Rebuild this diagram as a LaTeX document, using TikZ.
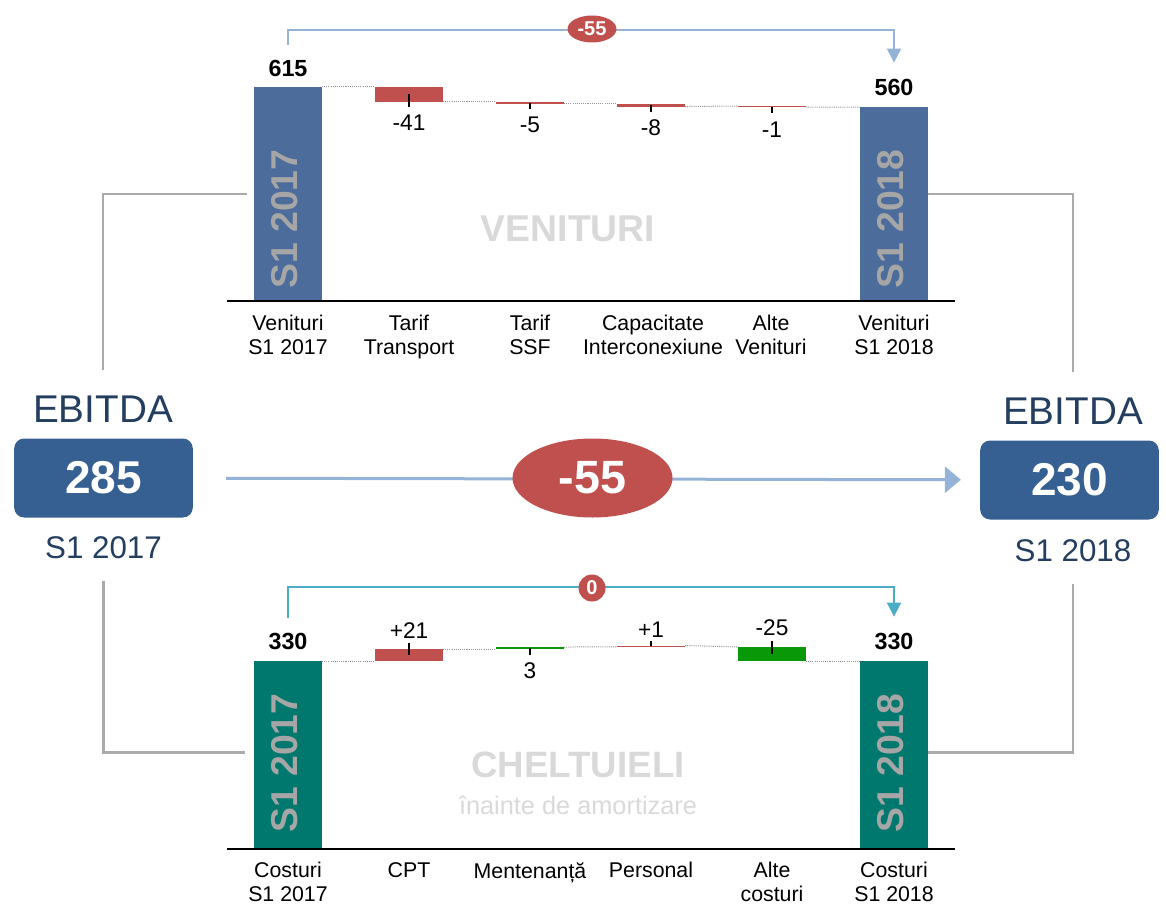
\documentclass[tikz,border=0pt]{standalone}
\usepackage{fontspec}
\setmainfont{Liberation Sans}
\usepackage{xcolor}
\usepackage{tikz}
\usetikzlibrary{shapes.geometric, arrows.meta, positioning}
\definecolor{barblue}{RGB}{76,108,156}
\definecolor{barteal}{RGB}{0,120,110}
\definecolor{negred}{RGB}{192,80,77}
\definecolor{posgreen}{RGB}{8,152,8}
\definecolor{boxblue}{RGB}{55,96,146}
\definecolor{navy}{RGB}{36,62,96}
\definecolor{framegray}{RGB}{170,170,170}
\definecolor{txtgray}{RGB}{166,166,166}
\definecolor{wmgray}{RGB}{217,217,217}
\definecolor{lightblue}{RGB}{149,179,215}
\definecolor{tealblue}{RGB}{75,172,198}
\tikzstyle{barnode} = [rectangle, draw=none, inner sep=0pt, outer sep=0pt, minimum width=51pt]
\tikzstyle{valtxt} = [inner sep=0pt, font=\fontsize{17pt}{20pt}\selectfont]
\tikzstyle{valbold} = [inner sep=0pt, font=\fontsize{17.5pt}{20pt}\selectfont\bfseries]
\tikzstyle{catlbl} = [inner sep=0pt, anchor=north, align=center, font=\fontsize{16pt}{18pt}\selectfont]
\tikzstyle{bartxt} = [inner sep=0pt, rotate=90, anchor=west, text=txtgray, font=\fontsize{28pt}{30pt}\selectfont\bfseries]
\tikzstyle{wmark} = [inner sep=0pt, text=wmgray]
\tikzstyle{dotln} = [gray!85, line width=0.75pt, dash pattern=on 0.8pt off 0.8pt]
\tikzstyle{tickln} = [black, line width=0.8pt]
\tikzstyle{axisln} = [black, line width=1pt]
\tikzstyle{framln} = [framegray, line width=2pt]
\tikzstyle{upbrk} = [lightblue, line width=1.5pt, -{Triangle[length=10.5pt,width=10.5pt]}]
\tikzstyle{lowbrk} = [tealblue, line width=1.5pt, -{Triangle[length=10.5pt,width=10.5pt]}]
\tikzstyle{midarrow} = [lightblue, line width=2.25pt, -{Triangle[length=12pt,width=19.5pt]}]
\tikzstyle{pill} = [ellipse, fill=negred, text=white, inner sep=0pt, font=\bfseries]
\tikzstyle{ebox} = [rectangle, rounded corners=7.5pt, fill=boxblue, text=white, minimum width=134pt, minimum height=59.25pt, inner sep=0pt, font=\fontsize{34.5pt}{36pt}\selectfont\bfseries]
\tikzstyle{ebtxt} = [inner sep=0pt, text=navy]

\begin{document}
\begin{tikzpicture}[x=0.75pt,y=-0.75pt]
    \useasboundingbox (0,0) rectangle (1166,916);

    % venituri
    \node[barnode, fill=barblue, anchor=south, minimum height=160.5pt] (v1) at (288,301) {};
    \node[barnode, fill=negred, anchor=north, minimum height=11.25pt] (tt) at (409,87) {};
    \node[barnode, fill=negred, anchor=north, minimum height=1.5pt] (ssf) at (530,102) {};
    \node[barnode, fill=negred, anchor=north, minimum height=1.9pt] (capb) at (651,104) {};
    \node[barnode, fill=negred, anchor=north, minimum height=0.9pt] (alte) at (772,106) {};
    \node[barnode, fill=barblue, anchor=south, minimum height=145.5pt] (v6) at (894,301) {};

    \draw[dotln] (v1.north east) -- (tt.north west);
    \draw[dotln] (tt.south east) -- (ssf.north west);
    \draw[dotln] (ssf.south east) -- (capb.north west);
    \draw[dotln] (capb.south east) -- (alte.north west);
    \draw[dotln] (alte.south east) -- (v6.north west);

    \draw[tickln] (tt.center) -- ([yshift=-4pt]tt.south);
    \draw[tickln] (ssf.center) -- ([yshift=-4pt]ssf.south);
    \draw[tickln] (capb.center) -- ([yshift=-4pt]capb.south);
    \draw[tickln] (alte.center) -- ([yshift=-4pt]alte.south);

    \node[valbold, above=7.2pt of v1] (v1val) {615};
    \node[valbold, above=8pt of v6] (v6val) {560};
    \node[valtxt, below=9.7pt of tt] (ttval) {-41};
    \node[valtxt, below=9.7pt of ssf] (ssfval) {-5};
    \node[valtxt, below=10pt of capb] (capval) {-8};
    \node[valtxt, below=11pt of alte] (alteval) {-1};

    \node[bartxt] (v1lbl) at ([xshift=-2.25pt,yshift=9pt]v1.south) {S1 2017};
    \node[bartxt] (v6lbl) at ([xshift=-2.25pt,yshift=9pt]v6.south) {S1 2018};

    \draw[axisln] ([xshift=-20.25pt]v1.south west) -- ([xshift=20.25pt]v6.south east);

    \node[catlbl] (l1) at (288,315) {Venituri\\S1 2017};
    \node[catlbl] (l2) at (409,315) {Tarif\\Transport};
    \node[catlbl] (l3) at (530,315) {Tarif\\SSF};
    \node[catlbl] (l4) at (653,315) {Capacitate\\Interconexiune};
    \node[catlbl] (l5) at (771,315) {Alte\\Venituri};
    \node[catlbl] (l6) at (894,315) {Venituri\\S1 2018};

    \node[wmark, font=\fontsize{28pt}{30pt}\selectfont\bfseries] (wm1) at (568,229) {VENITURI};

    \coordinate (ua) at ([yshift=11.7pt]v1val.north);
    \coordinate (ub) at ([yshift=12.5pt]v6val.north);
    \coordinate (uc) at (592,30);
    \draw[upbrk] (ua) |- (uc) -| (ub);
    \node[pill, minimum width=36.75pt, minimum height=20.25pt, font=\fontsize{15pt}{16pt}\selectfont\bfseries] (d1) at (592,29) {-55};

    % cheltuieli
    \node[barnode, fill=barteal, anchor=south, minimum height=141pt] (c1) at (288,849) {};
    \node[barnode, fill=negred, anchor=north, minimum height=9pt] (cpt) at (409,649) {};
    \node[barnode, fill=posgreen, anchor=north, minimum height=1.5pt] (ment) at (530,647) {};
    \node[barnode, fill=negred, anchor=north, minimum height=1.1pt] (pers) at (651,645.5) {};
    \node[barnode, fill=posgreen, anchor=north, minimum height=10.5pt] (altc) at (772,647) {};
    \node[barnode, fill=barteal, anchor=south, minimum height=141pt] (c6) at (894,849) {};

    \draw[dotln] (c1.north east) -- (cpt.south west);
    \draw[dotln] (cpt.north east) -- (ment.south west);
    \draw[dotln] (ment.north east) -- (pers.south west);
    \draw[dotln] (pers.north east) -- (altc.north west);
    \draw[dotln] (altc.south east) -- (c6.north west);

    \draw[tickln] (cpt.center) -- ([yshift=4.5pt]cpt.north);
    \draw[tickln] (ment.center) -- ([yshift=-4.5pt]ment.south);
    \draw[tickln] (pers.center) -- ([yshift=3.5pt]pers.north);
    \draw[tickln] (altc.center) -- ([yshift=4.5pt]altc.north);

    \node[valbold, above=8pt of c1] (c1val) {330};
    \node[valbold, above=8pt of c6] (c6val) {330};
    \node[valtxt, above=7.4pt of cpt] (cptval) {+21};
    \node[valtxt, below=9.7pt of ment] (mentval) {3};
    \node[valtxt, above=5.5pt of pers] (persval) {+1};
    \node[valtxt, above=8.2pt of altc] (altcval) {-25};

    \node[bartxt] (c1lbl) at ([xshift=-2.25pt,yshift=12pt]c1.south) {S1 2017};
    \node[bartxt] (c6lbl) at ([xshift=-2.25pt,yshift=12pt]c6.south) {S1 2018};

    \draw[axisln] ([xshift=-20.25pt]c1.south west) -- ([xshift=20.25pt]c6.south east);

    \node[catlbl] (k1) at (288,862) {Costuri\\S1 2017};
    \node[catlbl] (k2) at (409,862) {CPT};
    \node[catlbl] (k3) at (530,862) {Mentenanță};
    \node[catlbl] (k4) at (651,862) {Personal};
    \node[catlbl] (k5) at (772,862) {Alte\\costuri};
    \node[catlbl] (k6) at (894,862) {Costuri\\S1 2018};

    \node[wmark, font=\fontsize{27.5pt}{30pt}\selectfont\bfseries] (wm2) at (578,765) {CHELTUIELI};
    \node[wmark, anchor=base, font=\fontsize{19pt}{22pt}\selectfont] (wm3) at (578,814) {înainte de amortizare};

    \coordinate (la) at ([yshift=11.7pt]c1val.north);
    \coordinate (lb) at ([yshift=12.5pt]c6val.north);
    \coordinate (lc) at (592,587);
    \draw[lowbrk] (la) |- (lc) -| (lb);
    \node[pill, minimum width=20.25pt, minimum height=20.25pt, font=\fontsize{15pt}{16pt}\selectfont\bfseries] (d2) at (592,588) {0};

    % ebitda
    \node[ebtxt, font=\fontsize{29pt}{30pt}\selectfont] (eb1) at (103,409) {EBITDA};
    \node[ebox] (b1) at (103.5,478) {285};
    \node[ebtxt, font=\fontsize{23.5pt}{25pt}\selectfont] (s1) at (103.5,548) {S1 2017};
    \node[ebtxt, font=\fontsize{29pt}{30pt}\selectfont] (eb2) at (1073,411) {EBITDA};
    \node[ebox] (b2) at (1069.5,480) {230};
    \node[ebtxt, font=\fontsize{23.5pt}{25pt}\selectfont] (s2) at (1073,551) {S1 2018};

    \draw[midarrow, shorten <=24.75pt, shorten >=14.25pt] (b1) -- (b2);
    \node[pill, minimum width=120pt, minimum height=59.25pt, font=\fontsize{35pt}{36pt}\selectfont\bfseries] (d3) at (592.5,478) {-55};

    \draw[framln] ([yshift=18.75pt]eb1.north) |- ([xshift=-5pt]v1.west);
    \draw[framln] (v6.east |- v1.west) -| ([yshift=18.75pt]eb2.north);
    \draw[framln] ([yshift=-16.5pt]s1.south) |- ([xshift=-7pt,yshift=1.9pt]c1.west);
    \draw[framln] ([yshift=1.9pt]c6.east) -| ([yshift=-16.5pt]s2.south);
\end{tikzpicture}
\end{document}
